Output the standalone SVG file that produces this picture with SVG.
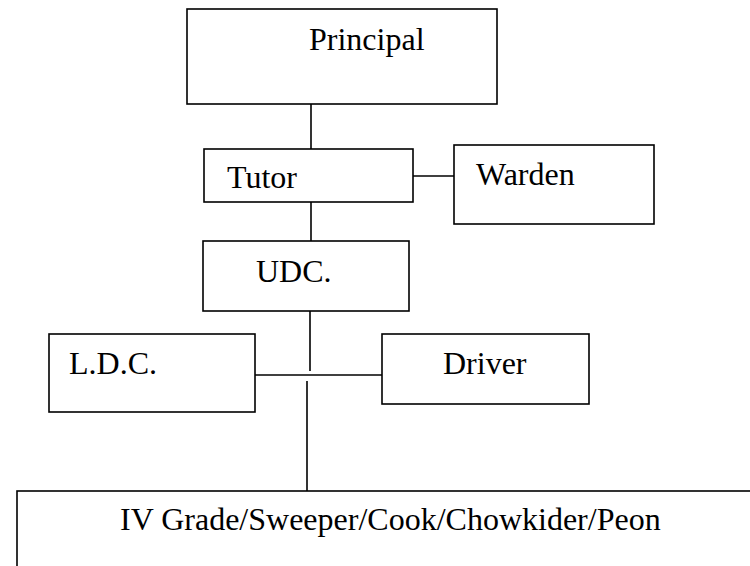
<svg xmlns="http://www.w3.org/2000/svg" width="750" height="566" viewBox="0 0 750 566">
<style>
.box{fill:#fff;stroke:#000;stroke-width:1.6}
.ln{stroke:#000;stroke-width:1.6;fill:none}
text{font-family:"Liberation Serif","Times New Roman",serif;font-size:32px;fill:#000}
</style>
<rect width="750" height="566" fill="#fff"/>
<g id="connectors">
<line class="ln" x1="311" y1="104" x2="311" y2="149"/>
<line class="ln" x1="411" y1="176" x2="454" y2="176"/>
<line class="ln" x1="311" y1="202" x2="311" y2="241"/>
<line class="ln" x1="310" y1="311" x2="310" y2="371"/>
<line class="ln" x1="255" y1="375" x2="382" y2="375"/>
<line class="ln" x1="307" y1="381" x2="307" y2="491"/>
</g>
<g id="principal"><rect class="box" x="187" y="9" width="310" height="95"/><text x="309" y="50">Principal</text></g>
<g id="tutor"><rect class="box" x="204" y="149" width="209" height="53"/><text x="227" y="188">Tutor</text></g>
<g id="warden"><rect class="box" x="454" y="145" width="200" height="79"/><text x="476" y="185">Warden</text></g>
<g id="udc"><rect class="box" x="203" y="241" width="206" height="70"/><text x="256" y="282">UDC.</text></g>
<g id="ldc"><rect class="box" x="49" y="334" width="206" height="78"/><text x="69" y="374">L.D.C.</text></g>
<g id="driver"><rect class="box" x="382" y="334" width="207" height="70"/><text x="443" y="374">Driver</text></g>
<g id="staff"><rect class="box" x="17" y="491" width="740" height="90"/><text x="120" y="530">IV Grade/Sweeper/Cook/Chowkider/Peon</text></g>
</svg>
